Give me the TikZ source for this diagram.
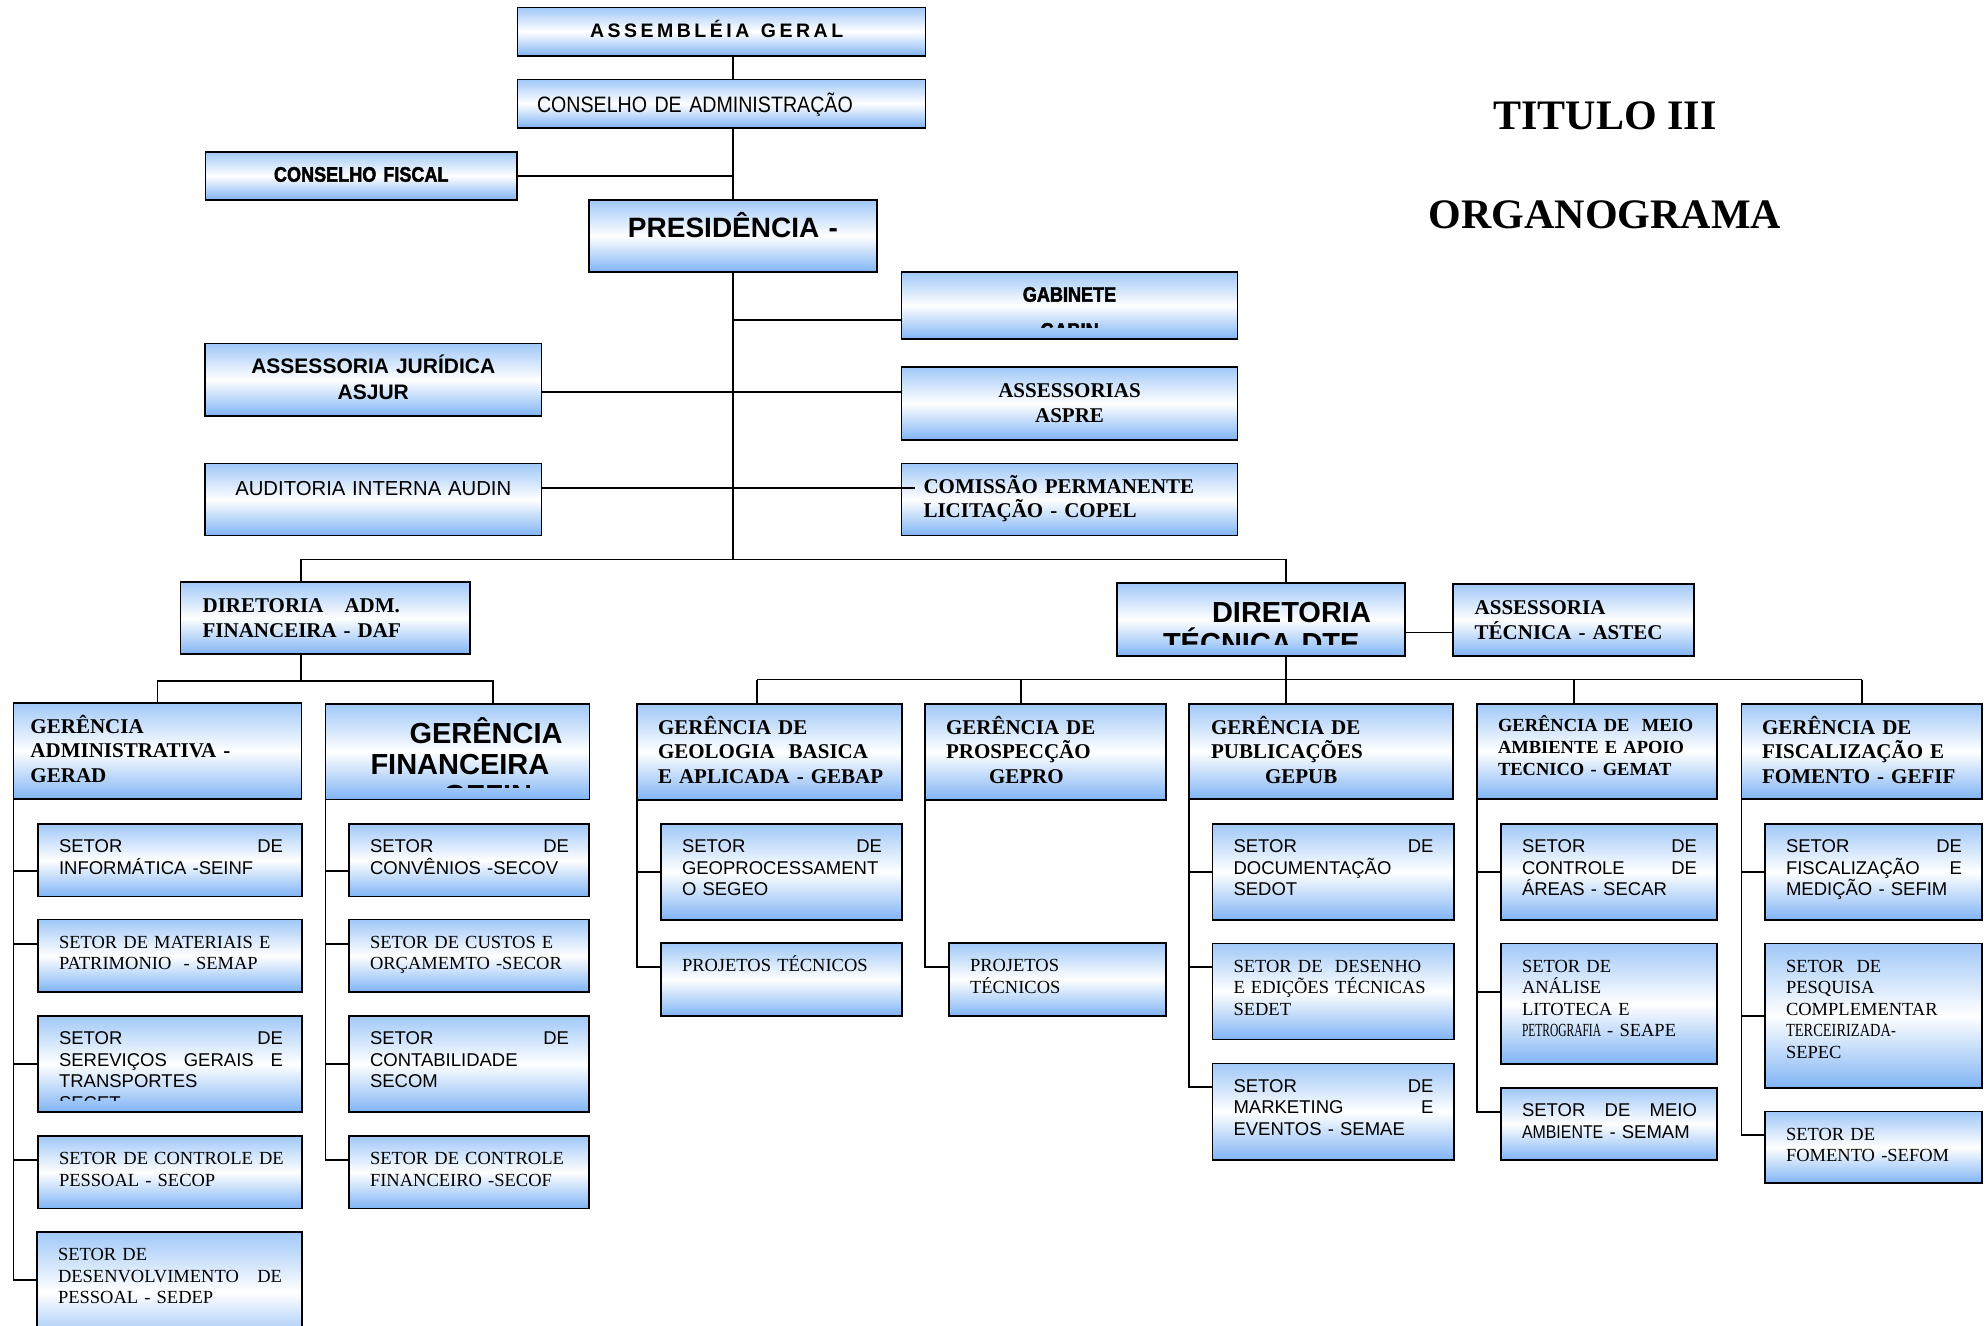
\documentclass[tikz,border=0pt]{standalone}
\usepackage{fontspec}
\usepackage{graphicx}
\setmainfont{Liberation Serif}
\setsansfont{Liberation Sans}
\newfontfamily\narrowsf[FakeStretch=0.88]{Liberation Sans}
\newfontfamily\heavysf[FakeStretch=0.86,BoldFeatures={FakeBold=2}]{Liberation Sans}
\newfontfamily\spacedsf[LetterSpace=18]{Liberation Sans}
\usetikzlibrary{calc}
\hyphenpenalty=10000
\definecolor{boxtop}{RGB}{160,200,248}
\definecolor{boxbot}{RGB}{128,180,245}
\newcommand{\fspaced}{\spacedsf\bfseries\fontsize{19.5}{22}\selectfont}
\newcommand{\fnarrow}{\narrowsf\fontsize{22.3}{26}\selectfont}
\newcommand{\fheavy}{\heavysf\bfseries\fontsize{21}{36}\selectfont}
\newcommand{\fpres}{\sffamily\bfseries\fontsize{28}{32}\selectfont}
\newcommand{\fasjur}{\sffamily\bfseries\fontsize{21}{26}\selectfont}
\newcommand{\faudin}{\sffamily\fontsize{20.3}{24}\selectfont}
\newcommand{\fgerrm}{\rmfamily\bfseries\fontsize{21}{24.5}\selectfont}
\newcommand{\fgersf}{\sffamily\bfseries\fontsize{29}{31}\selectfont}
\newcommand{\fgemat}{\rmfamily\bfseries\fontsize{18.5}{22.4}\selectfont}
\newcommand{\fsetsf}{\sffamily\fontsize{18.5}{21.5}\selectfont}
\newcommand{\fsetrm}{\rmfamily\fontsize{18.5}{21.5}\selectfont}
\newcommand{\ftitle}{\rmfamily\bfseries\fontsize{42}{50}\selectfont}
\tikzset{unit/.style={draw=black,line width=1.6pt,top color=boxtop,bottom color=boxbot,
        middle color=white,anchor=north west,inner sep=0pt,outer sep=0pt},
    inner text/.style={anchor=base west,inner sep=0pt,outer sep=0pt,
        minimum width=0pt,minimum height=0pt},
    orgbox/.style n args={4}{unit,minimum width=#1pt,minimum height=#2pt,
        path picture={\clip ([yshift=12pt]path picture bounding box.south west)
            rectangle (path picture bounding box.north east);
            \node[inner text,#3] at (path picture bounding box.north west) {#4};}},
    tx/.style n args={3}{xshift=#1pt,yshift=-#2pt,text width=#3pt,align=left},
    tc/.style n args={2}{yshift=-#2pt,text width=#1pt,align=center},
    setor sf/.style={tx={21}{28.5}{#1},font=\fsetsf},
    setor rm/.style={tx={21}{28.5}{#1},font=\fsetrm},
    link/.style={draw,line width=1.6pt}}

\begin{document}
\begin{tikzpicture}[x=1pt,y=-1pt]
    \useasboundingbox (0,0) rectangle (1988,1325);

    % Title
    \node[font=\ftitle,anchor=base] (titulo) at (1605,129.3) {TITULO III};
    \node[font=\ftitle,anchor=base] (organograma) at (1605,228.3) {ORGANOGRAMA};

    % Councils and presidency
    \node[orgbox={408}{48.7}{tx={72.5}{30.4}{330},font=\fspaced}{ASSEMBLÉIA\hspace{5pt} GERAL}] (assembleia) at (517.5,7.3) {};
    \node[orgbox={408}{48.4}{tx={19.5}{33.4}{380},font=\fnarrow}{CONSELHO DE ADMINISTRAÇÃO}] (conselho) at (517.5,79.3) {};
    \node[orgbox={311.5}{48.3}{tc={311.5}{30},font=\fheavy}{CONSELHO FISCAL}] (fiscal) at (205.5,151.7) {};
    \node[orgbox={288}{72}{tc={288}{37},font=\fpres}{PRESIDÊNCIA -}] (presid) at (589,200) {};
    \node[orgbox={336}{67}{tc={336}{29.7},font=\fheavy}{GABINETE\\GABIN}] (gabin) at (901.5,272) {};
    \node[orgbox={336.5}{72.5}{tc={336.5}{29.8},font=\fasjur}{ASSESSORIA JURÍDICA\\ASJUR}] (asjur) at (205,343.5) {};
    \node[orgbox={336}{73}{tc={336}{30.7},font=\fgerrm}{ASSESSORIAS\\ASPRE}] (aspre) at (901.5,367) {};
    \node[orgbox={336.5}{72}{tc={336.5}{31.8},font=\faudin}{AUDITORIA INTERNA AUDIN}] (audin) at (205,463.5) {};
    \node[orgbox={336}{72}{tx={22}{29.8}{310},font=\fgerrm}{COMISSÃO PERMANENTE\\LICITAÇÃO - COPEL}] (copel) at (901.5,463.5) {};

    % Directorates
    \node[orgbox={289.5}{72.5}{tx={22}{31}{260},font=\fgerrm}{DIRETORIA~~~ADM.\\FINANCEIRA - DAF}] (daf) at (180.6,581.7) {};
    \node[orgbox={288}{73}{tx={46}{39.7}{240},font=\fgersf}{\hspace*{49pt}DIRETORIA\\TÉCNICA DTE}] (dte) at (1117,583) {};
    \node[orgbox={241}{72}{tx={21.7}{31}{215},font=\fgerrm}{ASSESSORIA\\TÉCNICA - ASTEC}] (astec) at (1453,583.7) {};

    % Managements
    \node[orgbox={288}{96}{tx={17}{30}{265},font=\fgerrm}{GERÊNCIA\\ADMINISTRATIVA -\\GERAD}] (gerad) at (13.5,703) {};
    \node[orgbox={264}{95.5}{tx={45}{39}{215},font=\fgersf}{\hspace*{39pt}GERÊNCIA\\FINANCEIRA\\\hspace*{73pt}GEFIN}] (gefin) at (325.5,704) {};
    \node[orgbox={265}{96}{tx={21}{30}{240},font=\fgerrm}{GERÊNCIA DE\\GEOLOGIA~~BASICA\\E APLICADA - GEBAP}] (gebap) at (637,704) {};
    \node[orgbox={241}{96}{tx={21}{30}{215},font=\fgerrm}{GERÊNCIA DE\\PROSPECÇÃO\\\hspace*{43pt}GEPRO}] (gepro) at (925,704) {};
    \node[orgbox={264}{95}{tx={22}{30}{238},font=\fgerrm}{GERÊNCIA DE\\PUBLICAÇÕES\\\hspace*{54pt}GEPUB}] (gepub) at (1189,704) {};
    \node[orgbox={240}{95}{tx={21}{27}{215},font=\fgemat}{GERÊNCIA DE~~MEIO\\AMBIENTE E APOIO\\TECNICO - GEMAT}] (gemat) at (1477,704) {};
    \node[orgbox={240.4}{95}{tx={20.5}{30}{218},font=\fgerrm}{GERÊNCIA DE\\FISCALIZAÇÃO E\\FOMENTO - GEFIF}] (gefif) at (1741.6,704) {};

    % Sectors
    \node[orgbox={264}{72.5}{setor sf=224}{SETOR \hfill DE\\INFORMÁTICA -SEINF}] (seinf) at (38,824) {};
    \node[orgbox={264}{72.5}{setor rm=224}{SETOR DE MATERIAIS E\\PATRIMONIO~~- SEMAP}] (semap) at (38,919.5) {};
    \node[orgbox={264}{96}{setor sf=224}{SETOR \hfill DE\\SEREVIÇOS \hfill GERAIS \hfill E\\TRANSPORTES\\SECET}] (secet) at (38,1016) {};
    \node[orgbox={264}{72.5}{setor rm=236}{SETOR DE CONTROLE DE\\PESSOAL - SECOP}] (secop) at (38,1136) {};
    \node[orgbox={265}{120}{setor rm=224}{SETOR DE\\DESENVOLVIMENTO \hfill DE\\PESSOAL - SEDEP}] (sedep) at (37,1232) {};
    \node[orgbox={240}{72.5}{setor sf=199}{SETOR \hfill DE\\CONVÊNIOS -SECOV}] (secov) at (349,824) {};
    \node[orgbox={240}{72.5}{setor rm=199}{SETOR DE CUSTOS E\\ORÇAMEMTO -SECOR}] (secor) at (349,919.5) {};
    \node[orgbox={240}{96}{setor sf=199}{SETOR \hfill DE\\CONTABILIDADE\\SECOM}] (secom) at (349,1016) {};
    \node[orgbox={240}{72.5}{setor rm=199}{SETOR DE CONTROLE\\FINANCEIRO -SECOF}] (secof) at (349,1136) {};
    \node[orgbox={241}{96}{setor sf=200}{SETOR \hfill DE\\GEOPROCESSAMENT\\O SEGEO}] (segeo) at (661,824) {};
    \node[orgbox={241}{73}{setor rm=200}{PROJETOS TÉCNICOS}] (projgebap) at (661,943) {};
    \node[orgbox={217}{73}{setor rm=176}{PROJETOS\\TÉCNICOS}] (projgepro) at (949,943) {};
    \node[orgbox={241.5}{96}{setor sf=200}{SETOR \hfill DE\\DOCUMENTAÇÃO\\SEDOT}] (sedot) at (1212.5,824) {};
    \node[orgbox={241.5}{96}{setor rm=200}{SETOR DE~~DESENHO\\E EDIÇÕES TÉCNICAS\\SEDET}] (sedet) at (1212.5,943.5) {};
    \node[orgbox={241.5}{96.5}{setor sf=200}{SETOR \hfill DE\\MARKETING \hfill E\\EVENTOS - SEMAE}] (semae) at (1212.5,1063.5) {};
    \node[orgbox={216}{96}{setor sf=175}{SETOR \hfill DE\\CONTROLE \hfill DE\\ÁREAS - SECAR}] (secar) at (1501,824) {};
    \node[orgbox={216}{120.5}{setor rm=175}{SETOR DE\\ANÁLISE\\LITOTECA E\\\scalebox{0.62}[1]{PETROGRAFIA} - SEAPE}] (seape) at (1501,943.5) {};
    \node[orgbox={216}{72}{setor sf=175}{SETOR \hfill DE \hfill MEIO\\\scalebox{0.86}[1]{AMBIENTE} - SEMAM}] (semam) at (1501,1088) {};
    \node[orgbox={217}{96}{setor sf=176}{SETOR \hfill DE\\FISCALIZAÇÃO \hfill E\\MEDIÇÃO - SEFIM}] (sefim) at (1765,824) {};
    \node[orgbox={217}{144.5}{setor rm=176}{SETOR~~DE\\PESQUISA\\COMPLEMENTAR\\\scalebox{0.78}[1]{TERCEIRIZADA-}\\SEPEC}] (sepec) at (1765,943.5) {};
    \node[orgbox={217}{71.5}{setor rm=176}{SETOR DE\\FOMENTO -SEFOM}] (sefom) at (1765,1111.6) {};

    % Main trunk and side branches
    \draw[link] (presid.north |- assembleia.south) -- (presid.north |- conselho.north);
    \draw[link] (presid.north |- conselho.south) -- (presid.north);
    \draw[link] (fiscal.east) -- (fiscal.east -| presid.north);
    \coordinate (bar west) at (301,559.5);
    \coordinate (bar east) at (1286,559.5);
    \draw[link] (presid.south) -- (presid.south |- bar west);
    \draw[link] (presid.south |- 0,320) -- (gabin.west |- 0,320);
    \draw[link] (asjur.east |- 0,392) -- (aspre.west |- 0,392);
    \draw[link] (audin.east |- 0,488) -- (copel.west |- 0,488) -- ++(13,0);
    \draw[link] (bar west |- daf.north) -- (bar west) -- (bar east) -- (bar east |- dte.north);
    \draw[link] (dte.east |- 0,632.4) -- (astec.west |- 0,632.4);

    % Directorates to managements
    \coordinate (daf hub) at (301,681);
    \draw[link] (daf.south -| daf hub) -- (daf hub);
    \draw[link] (gerad.north) |- (daf hub) -| (gefin.north -| 493,0);
    \coordinate (dte hub) at (1286,679.5);
    \draw[link] (dte.south -| dte hub) -- (dte hub);
    \draw[link] (757,679.5) -- (1862,679.5);
    \foreach \n/\x in {gebap/757, gepro/1021, gepub/1286, gemat/1574, gefif/1862}
        \draw[link] (\x,679.5) -- (\n.north -| \x,0);

    % Managements to sectors
    \foreach \p/\c/\y in {gerad/seinf/871, gerad/semap/944, gerad/secet/1064, gerad/secop/1160,
            gerad/sedep/1280, gefin/secov/871, gefin/secor/944, gefin/secom/1064, gefin/secof/1160,
            gebap/segeo/872, gebap/projgebap/967, gepro/projgepro/967,
            gepub/sedot/872, gepub/sedet/967, gepub/semae/1087,
            gemat/secar/872, gemat/seape/992, gemat/semam/1112,
            gefif/sefim/872, gefif/sepec/1016, gefif/sefom/1135}
        \draw[link] (\p.south west) |- (\c.west |- 0,\y);
\end{tikzpicture}
\end{document}
